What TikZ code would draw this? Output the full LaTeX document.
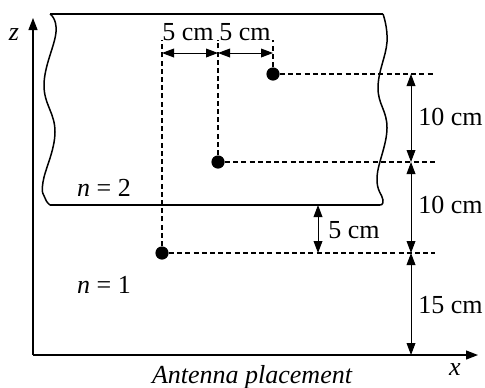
\documentclass[tikz,border=0pt]{standalone}
\usepackage{fontspec}
\setmainfont{Liberation Serif}
\usetikzlibrary{arrows.meta}

\begin{document}
\begin{tikzpicture}[x=0.5pt,y=-0.5pt,
    axis/.style={line width=0.6pt, -{Triangle[length=6pt,width=4.5pt]}},
    slab/.style={line width=0.75pt},
    dim/.style={line width=0.5pt, {Triangle[length=6pt,width=4.4pt]}-{Triangle[length=6pt,width=4.4pt]}},
    guide/.style={dash pattern=on 2.5pt off 1.6pt, line width=0.75pt},
    antenna/.style={circle, fill=black, inner sep=0pt, minimum size=6.6pt},
    lbl/.style={font=\fontsize{13}{15}\selectfont, inner sep=0pt}]
    \useasboundingbox (0,0) rectangle (485,387);

    % Axes
    \coordinate (o) at (33,355);
    \coordinate (ztip) at (33,18);
    \coordinate (xtip) at (478,355);
    \draw[axis] (o) -- (ztip);
    \draw[axis] (o) -- (xtip);
    \node[lbl] (zlab) at (14,35) {\itshape z};
    \node[lbl] (xlab) at (455,370) {\itshape x};
    \node[lbl] (cap) at (252,377) {\itshape Antenna placement};

    % Layer n = 2 (cut on both sides)
    \draw[slab] (50,14) -- (383,14);
    \draw[slab] (50,205) -- (380,205);
    \draw[slab] plot[smooth, tension=0.7] coordinates {(50,14) (56,32) (44,85) (55,132) (43,182) (45,198) (50,205)};
    \draw[slab] plot[smooth, tension=0.7] coordinates {(383,14) (387,42) (378,88) (387,128) (377,177) (383,200) (380,205)};
    \node[lbl] (n2) at (104,188) {\textit{n} = 2};
    \node[lbl] (n1) at (104,285) {\textit{n} = 1};

    % Antennas
    \node[antenna] (a1) at (273,74) {};
    \node[antenna] (a2) at (218,162) {};
    \node[antenna] (a3) at (162,253) {};

    % Guide lines
    \coordinate (e1) at (273,40);
    \coordinate (e2) at (218,40);
    \coordinate (e3) at (162,40);
    \coordinate (r1) at (435,74);
    \coordinate (r2) at (435,162);
    \coordinate (r3) at (435,253);
    \draw[guide] (a1) -- (e1);
    \draw[guide] (a2) -- (e2);
    \draw[guide] (a3) -- (e3);
    \draw[guide] (a1) -- (r1);
    \draw[guide] (a2) -- (r2);
    \draw[guide] (a3) -- (r3);

    % Horizontal spacing
    \coordinate (d1) at (162,53);
    \coordinate (d2) at (218,53);
    \coordinate (d3) at (273,53);
    \draw[dim] (d1) -- (d2);
    \draw[dim] (d2) -- (d3);
    \node[lbl] (h1) at (188,32) {5 cm};
    \node[lbl] (h2) at (245,32) {5 cm};

    % Vertical spacing
    \coordinate (v1) at (411,74);
    \coordinate (v2) at (411,162);
    \coordinate (v3) at (411,253);
    \coordinate (v0) at (411,355);
    \draw[dim] (v1) -- (v2);
    \draw[dim] (v2) -- (v3);
    \draw[dim] (v3) -- (v0);
    \node[lbl, anchor=west] (h3) at (418,117) {10 cm};
    \node[lbl, anchor=west] (h4) at (418,205) {10 cm};
    \node[lbl, anchor=west] (h5) at (418,305) {15 cm};

    % Distance to layer boundary
    \coordinate (s1) at (318,205);
    \coordinate (s2) at (318,253);
    \draw[dim] (s1) -- (s2);
    \node[lbl, anchor=west] (h6) at (328,230) {5 cm};
\end{tikzpicture}
\end{document}
